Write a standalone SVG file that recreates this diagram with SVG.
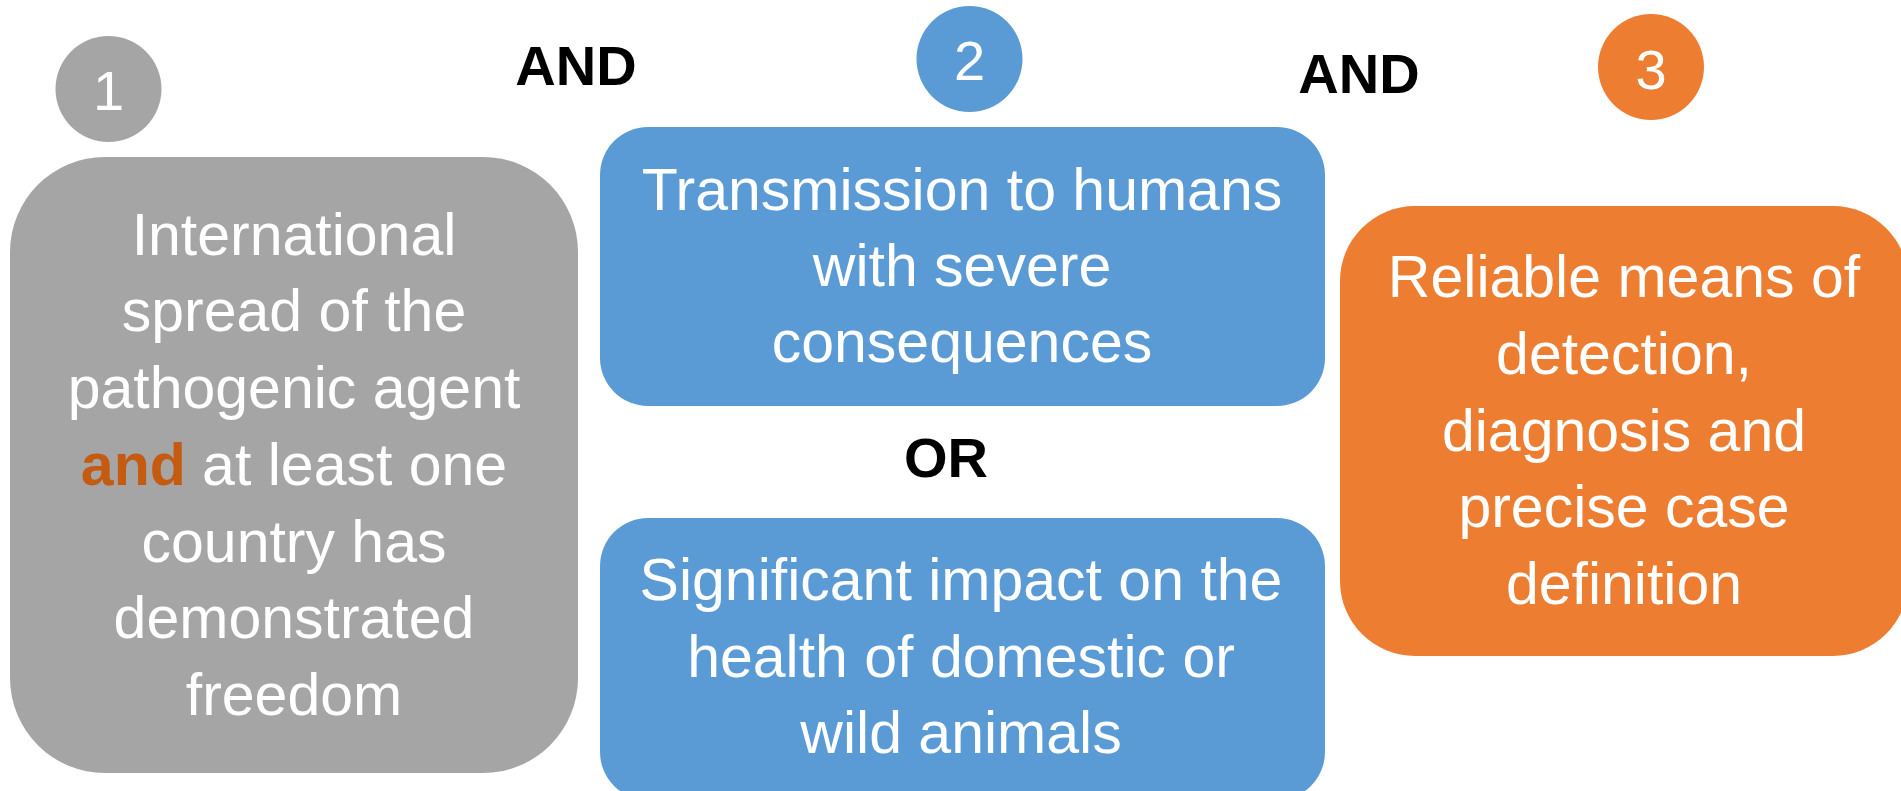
<svg xmlns="http://www.w3.org/2000/svg" width="1901" height="791" viewBox="0 0 1901 791">
<style>
.t{font-family:"Liberation Sans",Arial,sans-serif;font-size:59px;fill:#ffffff;text-anchor:middle}
.n{font-family:"Liberation Sans",Arial,sans-serif;font-size:56px;fill:#ffffff;text-anchor:middle}
.op{font-family:"Liberation Sans",Arial,sans-serif;font-size:56px;font-weight:bold;fill:#000000;text-anchor:middle}
.hl{fill:#C55A11;font-weight:bold}
.gray{fill:#A5A5A5}
.blue{fill:#5B9BD5}
.orange{fill:#ED7D31}
</style>
<rect width="1901" height="791" fill="#ffffff"/>
<g id="connectors"></g>
<g id="num1">
<circle class="gray" cx="108.5" cy="89" r="53"/>
<text class="n" x="108.5" y="110">1</text>
</g>
<g id="num2">
<circle class="blue" cx="969.5" cy="59" r="53"/>
<text class="n" x="969.5" y="80">2</text>
</g>
<g id="num3">
<circle class="orange" cx="1651" cy="67" r="53"/>
<text class="n" x="1651" y="89">3</text>
</g>
<g id="and1"><text class="op" x="576" y="85">AND</text></g>
<g id="and2"><text class="op" x="1359" y="93">AND</text></g>
<g id="or"><text class="op" x="946" y="477">OR</text></g>
<g id="box1">
<rect class="gray" x="10" y="157" width="568" height="616" rx="95" ry="95"/>
<text class="t" x="294" y="255">International</text>
<text class="t" x="294" y="331">spread of the</text>
<text class="t" x="294" y="408">pathogenic agent</text>
<text class="t" x="294" y="485"><tspan class="hl">and</tspan> at least one</text>
<text class="t" x="294" y="562">country has</text>
<text class="t" x="294" y="638">demonstrated</text>
<text class="t" x="294" y="715">freedom</text>
</g>
<g id="box2a">
<rect class="blue" x="600" y="127" width="725" height="279" rx="48" ry="48"/>
<text class="t" x="962" y="210">Transmission to humans</text>
<text class="t" x="962" y="286">with severe</text>
<text class="t" x="962" y="362">consequences</text>
</g>
<g id="box2b">
<rect class="blue" x="600" y="518" width="725" height="282" rx="48" ry="48"/>
<text class="t" x="961" y="600">Significant impact on the</text>
<text class="t" x="961" y="677">health of domestic or</text>
<text class="t" x="961" y="753">wild animals</text>
</g>
<g id="box3">
<rect class="orange" x="1340" y="206" width="568" height="450" rx="75" ry="75"/>
<text class="t" x="1624" y="297">Reliable means of</text>
<text class="t" x="1624" y="374">detection,</text>
<text class="t" x="1624" y="451">diagnosis and</text>
<text class="t" x="1624" y="527">precise case</text>
<text class="t" x="1624" y="604">definition</text>
</g>
</svg>
